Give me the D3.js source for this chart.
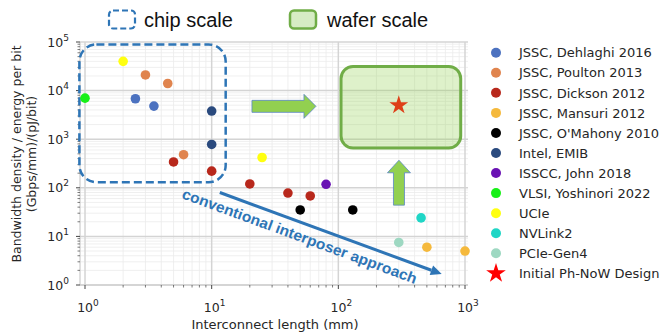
<!DOCTYPE html>
<html><head><meta charset="utf-8">
<script src="https://cdn.jsdelivr.net/npm/d3@7"></script>
<style>body{margin:0;background:#fff}svg{display:block}</style>
</head><body><svg id="c" width="665" height="333"></svg>
<script>
// ---- data ----
const seriesNames = ["JSSC, Dehlaghi 2016","JSSC, Poulton 2013","JSSC, Dickson 2012","JSSC, Mansuri 2012","JSSC, O'Mahony 2010","Intel, EMIB","ISSCC, John 2018","VLSI, Yoshinori 2022","UCIe","NVLink2","PCIe-Gen4","Initial Ph-NoW Design"];
const dehlaghiX = [2.5, 3.5],            dehlaghiY = [6800, 4800];
const poultonX  = [3, 4.5, 6],           poultonY  = [21000, 14000, 480];
const dicksonX  = [5, 10, 20, 40, 60],   dicksonY  = [340, 220, 120, 78, 68];
const mansuriX  = [500, 1000],           mansuriY  = [6, 5];
const omahonyX  = [50, 130],             omahonyY  = [35, 35];
const emibX     = [10, 10],              emibY     = [3800, 780];
const johnX     = [80],                  johnY     = [118];
const yoshinoriX= [1],                   yoshinoriY= [7000];
const ucieX     = [2, 25],               ucieY     = [40000, 420];
const nvlinkX   = [450],                 nvlinkY   = [24];
const pcieX     = [300],                 pcieY     = [7.5];
const phnowX    = [300],                 phnowY    = [5000];
const xTickExps = [0, 1, 2, 3];
const yTickExps = [0, 1, 2, 3, 4, 5];
const xLabel = "Interconnect length (mm)";
const yLabel1 = "Bandwidth density / energy per bit";
const yLabel2 = "(Gbps/mm)/(pJ/bit)";
const annotText = "conventional interposer approach";

// ---- styles ----
const seriesColors = ["#4c72c0","#e0844e","#b8281c","#f5b93c","#000000","#2a4a7e","#6a12b4","#18f018","#ffff10","#20d6c6","#9ed8c2","#ff0000"];
const seriesData = [
  [dehlaghiX,dehlaghiY],[poultonX,poultonY],[dicksonX,dicksonY],[mansuriX,mansuriY],
  [omahonyX,omahonyY],[emibX,emibY],[johnX,johnY],[yoshinoriX,yoshinoriY],
  [ucieX,ucieY],[nvlinkX,nvlinkY],[pcieX,pcieY],[phnowX,phnowY]
];

const svg = d3.select("#c");
const L = 80, R = 468, T = 42, B = 285;
const x = d3.scaleLog().domain([0.913, 1056]).range([L, R]);
const y = d3.scaleLog().domain([1, 1e5]).range([B, T]);

// grid
const g = svg.append("g");
const minorX = [], minorY = [];
xTickExps.forEach(e => { for (let k = 2; k <= 9; k++) { const v = k * Math.pow(10, e); if (v < 1056) minorX.push(v); } });
yTickExps.forEach(e => { if (e < 5) for (let k = 2; k <= 9; k++) minorY.push(k * Math.pow(10, e)); });
g.selectAll(".mx").data(minorX).enter().append("line")
  .attr("x1", d => x(d)).attr("x2", d => x(d)).attr("y1", T).attr("y2", B)
  .attr("stroke", "#ebebeb").attr("stroke-width", 0.8);
g.selectAll(".my").data(minorY).enter().append("line")
  .attr("x1", L).attr("x2", R).attr("y1", d => y(d)).attr("y2", d => y(d))
  .attr("stroke", "#ebebeb").attr("stroke-width", 0.8);
g.selectAll(".Mx").data(xTickExps).enter().append("line")
  .attr("x1", d => x(Math.pow(10, d))).attr("x2", d => x(Math.pow(10, d))).attr("y1", T).attr("y2", B)
  .attr("stroke", "#d4d4d4").attr("stroke-width", 1.5);
g.selectAll(".My").data(yTickExps).enter().append("line")
  .attr("x1", L).attr("x2", R).attr("y1", d => y(Math.pow(10, d))).attr("y2", d => y(Math.pow(10, d)))
  .attr("stroke", "#d4d4d4").attr("stroke-width", 1.5);
// spines
g.append("line").attr("x1", L).attr("x2", L).attr("y1", T).attr("y2", B).attr("stroke", "#cccccc").attr("stroke-width", 1.2);
g.append("line").attr("x1", L).attr("x2", R).attr("y1", B).attr("y2", B).attr("stroke", "#cccccc").attr("stroke-width", 1.2);

// ticks
const tickCol = "#444";
g.selectAll(".tx").data(xTickExps).enter().append("line")
  .attr("x1", d => x(Math.pow(10, d))).attr("x2", d => x(Math.pow(10, d))).attr("y1", B).attr("y2", B + 4)
  .attr("stroke", tickCol).attr("stroke-width", 1);
g.selectAll(".tmx").data(minorX).enter().append("line")
  .attr("x1", d => x(d)).attr("x2", d => x(d)).attr("y1", B).attr("y2", B + 2.5)
  .attr("stroke", tickCol).attr("stroke-width", 0.7);
g.selectAll(".ty").data(yTickExps).enter().append("line")
  .attr("x1", L - 4).attr("x2", L).attr("y1", d => y(Math.pow(10, d))).attr("y2", d => y(Math.pow(10, d)))
  .attr("stroke", tickCol).attr("stroke-width", 1);
g.selectAll(".tmy").data(minorY).enter().append("line")
  .attr("x1", L - 2.5).attr("x2", L).attr("y1", d => y(d)).attr("y2", d => y(d))
  .attr("stroke", tickCol).attr("stroke-width", 0.7);

// tick labels
const font = "DejaVu Sans, sans-serif";
const txl = svg.selectAll(".xl").data(xTickExps).enter().append("text")
  .attr("x", d => x(Math.pow(10, d)) + 3).attr("y", 312).attr("text-anchor", "middle")
  .attr("font-family", font).attr("font-size", 12.5).attr("fill", "#262626");
txl.append("tspan").text("10");
txl.append("tspan").attr("dy", -6).attr("font-size", 9).text(d => d);
const tyl = svg.selectAll(".yl").data(yTickExps).enter().append("text")
  .attr("x", 69).attr("y", d => y(Math.pow(10, d)) + 4.5).attr("text-anchor", "end")
  .attr("font-family", font).attr("font-size", 12.5).attr("fill", "#262626");
tyl.append("tspan").text("10");
tyl.append("tspan").attr("dy", -6).attr("font-size", 9).text(d => d);

// axis labels
svg.append("text").attr("x", 275).attr("y", 329).attr("text-anchor", "middle")
  .attr("font-family", font).attr("font-size", 13).attr("fill", "#262626").text(xLabel);
svg.append("text").attr("transform", "translate(21,154) rotate(-90)").attr("text-anchor", "middle")
  .attr("font-family", font).attr("font-size", 12.5).attr("fill", "#262626").text(yLabel1);
svg.append("text").attr("transform", "translate(36,154) rotate(-90)").attr("text-anchor", "middle")
  .attr("font-family", font).attr("font-size", 12.5).attr("fill", "#262626").text(yLabel2);

// chip-scale dashed box (data coords)
const blue = "#2e75b6";
svg.append("rect").attr("x", x(0.903)).attr("y", y(8.9e4))
  .attr("width", x(12.9) - x(0.903)).attr("height", y(130) - y(8.9e4))
  .attr("rx", 17).attr("fill", "none").attr("stroke", blue).attr("stroke-width", 2.5)
  .attr("stroke-dasharray", "8,4");

// data points
const star = d3.symbol().type(d3.symbolStar).size(110);
seriesData.forEach((s, i) => {
  const pts = s[0].map((v, j) => [v, s[1][j]]);
  if (i === 11) {
    svg.selectAll(null).data(pts).enter().append("path").attr("d", star)
      .attr("transform", d => `translate(${x(d[0])},${y(d[1])})`).attr("fill", seriesColors[i]);
  } else {
    svg.selectAll(null).data(pts).enter().append("circle")
      .attr("cx", d => x(d[0])).attr("cy", d => y(d[1])).attr("r", 4.8).attr("fill", seriesColors[i]);
  }
});

// wafer-scale box
const green = "#70ad47";
svg.append("rect").attr("x", x(105)).attr("y", y(3.14e4))
  .attr("width", x(925) - x(105)).attr("height", y(660) - y(3.14e4))
  .attr("rx", 12).attr("fill", "rgba(146,208,80,0.3)").attr("stroke", green).attr("stroke-width", 3);

// green block arrows
const arrowFill = "#92d050", arrowStroke = "#5a86c8";
(function () {
  const x0 = x(20.8), cy = y(4740), tip = x(66.6);
  const hb = tip - 12;
  const pts = [[x0, cy - 6], [hb, cy - 6], [hb, cy - 12], [tip, cy], [hb, cy + 12], [hb, cy + 6], [x0, cy + 6]];
  svg.append("path").attr("d", "M" + pts.join("L") + "Z").attr("fill", arrowFill).attr("stroke", arrowStroke).attr("stroke-width", 0.8);
})();
(function () {
  const cx = x(301), tipY = y(369), baseY = y(44);
  const hb = tipY + 12.5;
  const pts = [[cx - 5.5, baseY], [cx - 5.5, hb], [cx - 11.5, hb], [cx, tipY], [cx + 11.5, hb], [cx + 5.5, hb], [cx + 5.5, baseY]];
  svg.append("path").attr("d", "M" + pts.join("L") + "Z").attr("fill", arrowFill).attr("stroke", arrowStroke).attr("stroke-width", 0.8);
})();

// blue trend arrow
(function () {
  const x1 = x(11.6), y1 = y(80), x2 = x(655), y2 = y(1.68);
  const ang = Math.atan2(y2 - y1, x2 - x1);
  const hl = 11, hw = 5;
  const bx = x2 - hl * Math.cos(ang), by = y2 - hl * Math.sin(ang);
  svg.append("line").attr("x1", x1).attr("y1", y1).attr("x2", bx).attr("y2", by)
    .attr("stroke", blue).attr("stroke-width", 3);
  const p = [[x2, y2], [bx + hw * Math.sin(ang), by - hw * Math.cos(ang)], [bx - hw * Math.sin(ang), by + hw * Math.cos(ang)]];
  svg.append("path").attr("d", "M" + p.join("L") + "Z").attr("fill", blue);
  const deg = ang * 180 / Math.PI;
  svg.append("text").attr("transform", `translate(181,198) rotate(${deg})`)
    .attr("font-family", "Liberation Sans, Arial, sans-serif").attr("font-weight", "bold")
    .attr("font-size", 15).attr("fill", blue).attr("textLength", 249).attr("lengthAdjust", "spacingAndGlyphs")
    .text(annotText);
})();

// top legend
svg.append("rect").attr("x", 109).attr("y", 10.5).attr("width", 26).attr("height", 18).attr("rx", 4)
  .attr("fill", "none").attr("stroke", blue).attr("stroke-width", 2.2).attr("stroke-dasharray", "6,3");
svg.append("text").attr("x", 144).attr("y", 26.5).attr("font-family", "Liberation Sans, Arial, sans-serif")
  .attr("font-size", 20).attr("fill", "#111").text("chip scale");
svg.append("rect").attr("x", 290).attr("y", 10.5).attr("width", 26).attr("height", 18).attr("rx", 4)
  .attr("fill", "#d6ecc4").attr("stroke", green).attr("stroke-width", 2.5);
svg.append("text").attr("x", 327).attr("y", 26.5).attr("font-family", "Liberation Sans, Arial, sans-serif")
  .attr("font-size", 20).attr("fill", "#111").text("wafer scale");

// series legend
const lg = svg.append("g");
seriesNames.forEach((n, i) => {
  const cy = 52.7 + i * 20.06;
  if (i === 11) {
    lg.append("path").attr("d", d3.symbol().type(d3.symbolStar).size(120)).attr("transform", `translate(496,${cy})`).attr("fill", seriesColors[i]);
  } else {
    lg.append("circle").attr("cx", 496).attr("cy", cy).attr("r", 5).attr("fill", seriesColors[i]);
  }
  lg.append("text").attr("x", 519).attr("y", cy + 4.7).attr("font-family", font).attr("font-size", 13)
    .attr("fill", "#262626").text(n);
});
</script></body></html>
